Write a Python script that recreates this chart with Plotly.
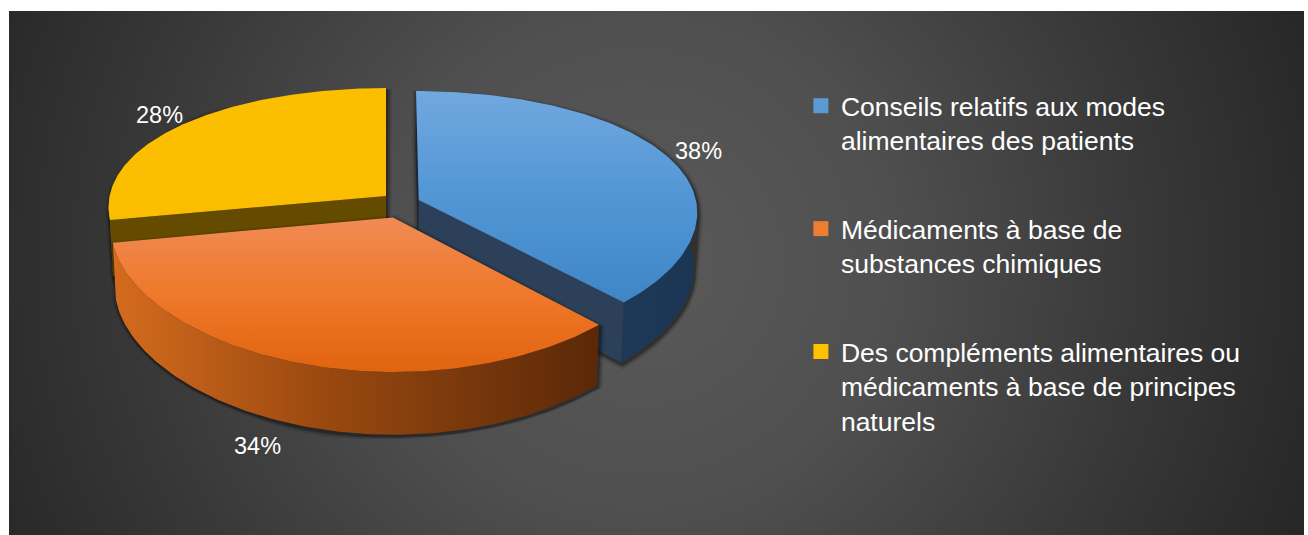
import numpy as np
import plotly.graph_objects as go

# ---- data -------------------------------------------------------------
CATEGORIES = [
    "Conseils relatifs aux modes<br>alimentaires des patients",
    "Médicaments à base de<br>substances chimiques",
    "Des compléments alimentaires ou<br>médicaments à base de principes<br>naturels",
]
SHARES = [38, 34, 28]
LEGEND_COLORS = ["#5b9bd5", "#ed7d31", "#ffc000"]

# ---- slice styling (top face gradient, outer wall gradient, cut faces) -
TOP_SCALES = [
    [[0, "#71a8de"], [0.5, "#5296d5"], [1, "#3f86c6"]],
    [[0, "#f08b55"], [0.5, "#ef782a"], [1, "#e1640f"]],
    [[0, "#fcbf00"], [1, "#fbbd00"]],
]
WALL_SCALES = [
    [[0, "#24425f"], [1, "#1b3654"]],
    [[0, "#d46b1e"], [0.45, "#98480f"], [1, "#5a2808"]],
    [[0, "#6d5100"], [1, "#5e4600"]],
]
CUT_COLORS = [["#1c2733", "#2c4159"], [None, None], ["#654b00", None]]
# exploded offsets in pie-radius units (x to the right, y away from viewer)
PULL = [(0.118, -0.0315), (0.025, -0.169), (0.0, 0.0)]

# ---- 3-D projection of the pie ---------------------------------------
CX, CY = 386.0, 196.0            # screen position of the pie centre
FX, DX = 2764.0, 10.0            # horizontal perspective
FY, DY = 1565.6, 5.9             # vertical perspective
TILT = np.radians(27.9)          # elevation of the view
THICK = 0.24                     # pie thickness (radius units)
S, C = np.sin(TILT), np.cos(TILT)


def project(x, y, z):
    x, y, z = np.asarray(x, float), np.asarray(y, float), np.asarray(z, float)
    v = y * S + z * C
    w = y * C - z * S
    return CX + FX * x / (DX + w), CY - FY * v / (DY + w)


def rim(theta, z, pull, r=1.0):
    return project(r * np.sin(theta) + pull[0], r * np.cos(theta) + pull[1],
                   np.full_like(theta, z, dtype=float))


def closed(xs, ys):
    xs, ys = list(xs), list(ys)
    return xs + xs[:1], ys + ys[:1]


def polygon(xs, ys, color=None, scale=None, orient="vertical"):
    xs, ys = closed(xs, ys)
    tr = go.Scatter(x=xs, y=ys, mode="lines", fill="toself",
                    line=dict(width=0), hoverinfo="skip", showlegend=False)
    if scale is None:
        tr.fillcolor = color
    else:
        lo, hi = (min(ys), max(ys)) if orient == "vertical" else (min(xs), max(xs))
        tr.fillgradient = dict(type=orient, colorscale=scale, start=lo, stop=hi)
    return tr


def hull(px, py):
    pts = sorted(set(zip(np.round(px, 3), np.round(py, 3))))

    def cross(o, a, b):
        return (a[0] - o[0]) * (b[1] - o[1]) - (a[1] - o[1]) * (b[0] - o[0])

    lower, upper = [], []
    for p in pts:
        while len(lower) >= 2 and cross(lower[-2], lower[-1], p) <= 0:
            lower.pop()
        lower.append(p)
    for p in reversed(pts):
        while len(upper) >= 2 and cross(upper[-2], upper[-1], p) <= 0:
            upper.pop()
        upper.append(p)
    h = np.array(lower[:-1] + upper[:-1])
    return h[:, 0], h[:, 1]


fig = go.Figure()

# dark backdrop with a soft radial glow
BG_CX, BG_CY, BG_R = 640, 262, 720
fig.add_trace(go.Scatter(
    x=[BG_CX - BG_R, BG_CX + BG_R, BG_CX + BG_R, BG_CX - BG_R, BG_CX - BG_R],
    y=[BG_CY - BG_R, BG_CY - BG_R, BG_CY + BG_R, BG_CY + BG_R, BG_CY - BG_R],
    mode="lines", fill="toself", line=dict(width=0), hoverinfo="skip", showlegend=False,
    fillgradient=dict(type="radial", colorscale=[[0, "#5a5a5a"], [0.35, "#4f4f4f"],
                                                 [0.7, "#383838"], [1, "#262626"]]),
))

# slice angles (clockwise from the back of the pie)
edges = np.radians(np.concatenate([[0], np.cumsum(SHARES)]) * 360.0 / sum(SHARES))
slices = [(i, edges[i], edges[i + 1]) for i in range(len(SHARES))]

# painter's order: back slice first, front slice last
for i in [2, 0, 1]:
    _, t0, t1 = slices[i]
    pull = PULL[i]
    th = np.linspace(t0, t1, 120)
    tx, ty = rim(th, 0.0, pull)
    bx, by = rim(th, -THICK, pull)
    ax, ay = project(pull[0], pull[1], 0.0)
    abx, aby = project(pull[0], pull[1], -THICK)

    # soft drop shadow around the slice outline
    hx, hy = hull(np.r_[tx, bx, ax, abx], np.r_[ty, by, ay, aby])
    mx, my = hx.mean(), hy.mean()
    dist = np.hypot(hx - mx, hy - my)
    for grow, alpha in ((5.0, 0.10), (3.0, 0.16), (1.5, 0.25)):
        sx = hx + (hx - mx) / dist * grow + 1.0
        sy = hy + (hy - my) / dist * grow + 2.0
        fig.add_trace(polygon(sx, sy, color=f"rgba(0,0,0,{alpha})"))

    # outer wall
    fig.add_trace(polygon(np.r_[tx, bx[::-1]], np.r_[ty, by[::-1]],
                          scale=WALL_SCALES[i], orient="horizontal"))
    # radial cut faces
    for k, t in enumerate((t0, t1)):
        col = CUT_COLORS[i][k]
        if col is None:
            continue
        ex, ey = rim(np.array([t]), 0.0, pull)
        fx, fy = rim(np.array([t]), -THICK, pull)
        fig.add_trace(polygon([ax, ex[0], fx[0], abx], [ay, ey[0], fy[0], aby], color=col))
    # top face
    fig.add_trace(polygon(np.r_[ax, tx], np.r_[ay, ty], scale=TOP_SCALES[i]))

# percentage labels just outside each slice (front labels clear the wall)
for i, t0, t1 in slices:
    mid = 0.5 * (t0 + t1)
    front = max(0.0, -np.cos(mid))
    lx, ly = rim(np.array([mid]), -THICK * 0.2 * front, PULL[i], r=1.13 + 0.27 * front)
    fig.add_annotation(x=float(lx[0]), y=float(ly[0]), text=f"{SHARES[i]}%", showarrow=False,
                       font=dict(family="Liberation Sans, Arial, sans-serif", size=23.5,
                                 color="#ffffff"))

# legend entries
for i, name in enumerate(CATEGORIES):
    fig.add_trace(go.Scatter(x=[None], y=[None], mode="markers", name=name,
                             legendgroup=f"g{i}",
                             marker=dict(symbol="square", size=15, color=LEGEND_COLORS[i])))

fig.update_layout(
    width=1308, height=535,
    margin=dict(l=9, r=4, t=11, b=0),
    paper_bgcolor="#ffffff", plot_bgcolor="#262626",
    xaxis=dict(range=[9, 1304], visible=False, fixedrange=True),
    yaxis=dict(range=[535, 11], visible=False, fixedrange=True),
    showlegend=True,
    legend=dict(x=0.6115, y=0.8645, xanchor="left", yanchor="top",
                bgcolor="rgba(0,0,0,0)", tracegroupgap=51, valign="top",
                font=dict(family="Liberation Sans, Arial, sans-serif", size=26.5,
                          color="#ffffff")),
)

fig.write_html("out.html", post_script="document.body.style.margin='0';")
